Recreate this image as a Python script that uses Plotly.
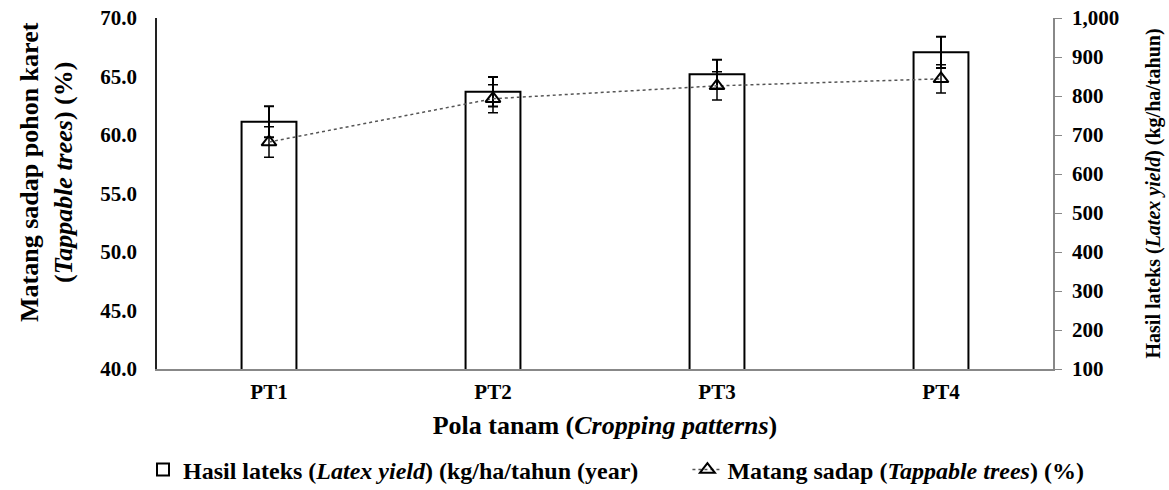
import plotly.graph_objects as go

patterns = ["PT1", "PT2", "PT3", "PT4"]
latex_yield = [734, 811, 856, 912]
latex_err = [40, 38, 37, 40]
tappable = [59.4, 63.1, 64.2, 64.8]
tappable_err = [1.3, 1.2, 1.2, 1.2]

left_ticks = [40, 45, 50, 55, 60, 65, 70]
right_ticks = [100, 200, 300, 400, 500, 600, 700, 800, 900, 1000]

FONT = "Liberation Serif"

fig = go.Figure()
fig.add_trace(go.Bar(
    x=patterns, y=latex_yield, yaxis="y",
    name="<b>Hasil lateks (<i>Latex yield</i>) (kg/ha/tahun (year)</b>",
    marker=dict(color="white", line=dict(color="black", width=2)),
    width=0.245, legend="legend",
    error_y=dict(type="data", array=latex_err, color="black", thickness=2, width=5),
))
fig.add_trace(go.Scatter(
    x=patterns, y=tappable, yaxis="y2",
    name="<b>Matang sadap (<i>Tappable trees</i>) (%)</b>",
    mode="lines+markers", legend="legend2",
    line=dict(color="#555555", width=1.5, dash="dot"),
    marker=dict(symbol="triangle-up-open", size=13, color="black", line=dict(color="black", width=2)),
    error_y=dict(type="data", array=tappable_err, color="black", thickness=1.5, width=5),
))

legend_common = dict(orientation="h", y=-0.2877, yanchor="middle",
                     font=dict(family=FONT, size=24, color="black"),
                     itemwidth=30, bgcolor="rgba(0,0,0,0)")

fig.update_layout(
    width=1169, height=490,
    margin=dict(l=157, r=116, t=18, b=121, autoexpand=False),
    plot_bgcolor="white", paper_bgcolor="white",
    font=dict(family=FONT, color="black", size=20),
    showlegend=True,
    legend=dict(x=-0.0156, xanchor="left", **legend_common),
    legend2=dict(x=0.592, xanchor="left", **legend_common),
    xaxis=dict(
        automargin=False,
        showline=True, linecolor="#888888", linewidth=1.5, showgrid=False,
        ticks="", tickfont=dict(family=FONT, size=21, color="black"),
        tickprefix="<b>", ticksuffix="</b>", ticklabelstandoff=3,
        title=dict(text="<b>Pola tanam (<i>Cropping patterns</i>)</b>",
                   font=dict(family=FONT, size=26, color="black"), standoff=13),
    ),
    yaxis=dict(
        automargin=False,
        side="right", range=[100, 1000], tickvals=right_ticks,
        ticktext=[f"<b>{v:,}</b>" for v in right_ticks],
        showline=True, linecolor="#888888", linewidth=1.5, showgrid=False,
        ticks="outside", ticklen=7, tickcolor="#888888",
        tickfont=dict(family=FONT, size=21, color="black"),
        ticklabelstandoff=6,
        zeroline=False,
    ),
    yaxis2=dict(
        automargin=False,
        side="left", overlaying="y", range=[40, 70], tickvals=left_ticks,
        ticktext=[f"<b>{v:.1f}</b>" for v in left_ticks],
        showline=True, linecolor="#222222", linewidth=1.5, showgrid=False,
        ticks="", tickfont=dict(family=FONT, size=21, color="black"),
        ticklabelstandoff=14,
        zeroline=False,
    ),
    annotations=[
        dict(text="<b>Matang sadap pohon karet<br>(<i>Tappable trees</i>) (%)</b>",
             xref="paper", yref="paper", x=-0.1228, y=0.5613,
             xanchor="center", yanchor="middle", textangle=-90, showarrow=False,
             font=dict(family=FONT, size=26, color="black")),
        dict(text="<b>Hasil lateks (<i>Latex yield</i>) (kg/ha/tahun)</b>",
             xref="paper", yref="paper", x=1.1127, y=0.5,
             xanchor="center", yanchor="middle", textangle=-90, showarrow=False,
             font=dict(family=FONT, size=20, color="black")),
    ],
)

fig.write_html("out.html", config={"displayModeBar": False},
               post_script="document.body.style.margin='0px';")
